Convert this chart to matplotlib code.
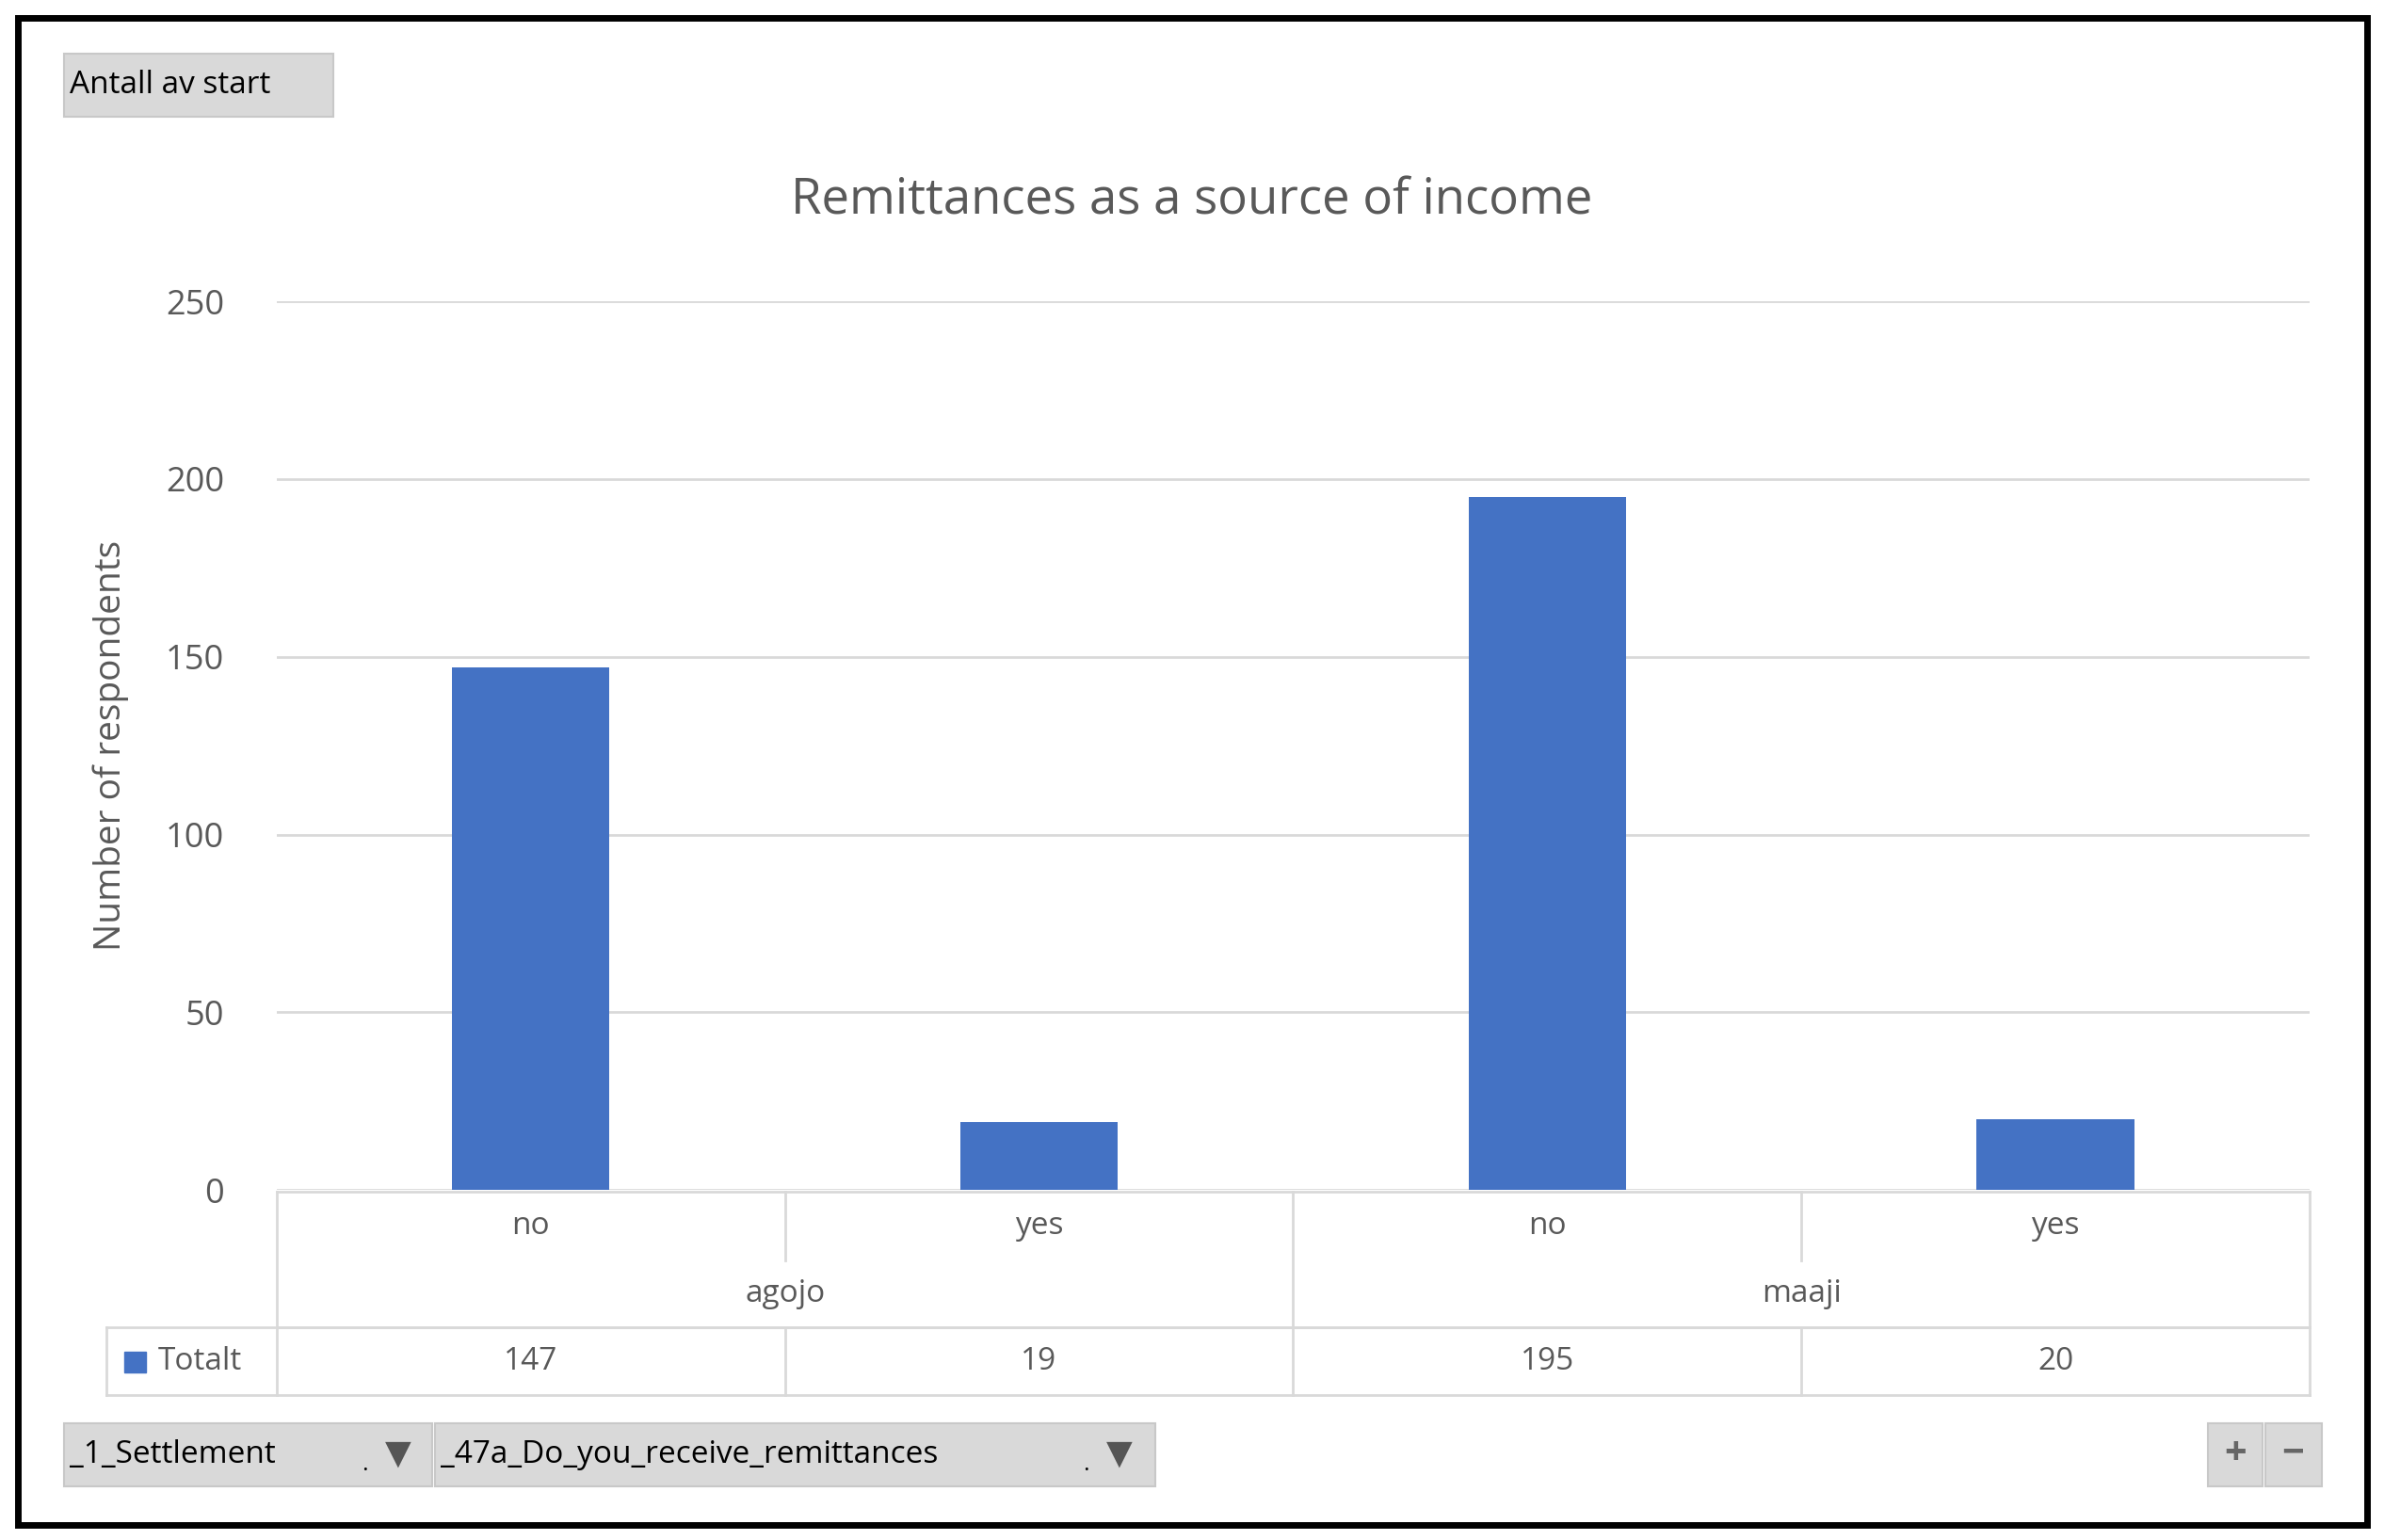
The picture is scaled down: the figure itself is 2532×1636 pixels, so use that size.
import matplotlib
matplotlib.use("Agg")
import matplotlib.pyplot as plt
from matplotlib.lines import Line2D
from matplotlib.patches import Rectangle

plt.rcParams['font.family'] = ['Open Sans', 'DejaVu Sans']

settlements = ["agojo", "maaji"]
answers = ["no", "yes", "no", "yes"]
values = [147, 19, 195, 20]
yticks = [0, 50, 100, 150, 200, 250]
title = "Remittances as a source of income"
ylabel = "Number of respondents"
series_name = "Totalt"

W, H = 1568, 1012
fx = lambda x: x / W
fy = lambda y: 1 - y / H

fig = plt.figure(figsize=(25.32, 16.36), dpi=100)
gray = "#595959"
grid = "#d9d9d9"
blue = "#4472c4"

ax = fig.add_axes([fx(182), fy(782), fx(1519) - fx(182), fy(198) - fy(782)])
xs = list(range(len(values)))
ax.bar(xs, values, width=0.31, color=blue, zorder=3)
ax.set_xlim(-0.5, len(values) - 0.5)
ax.set_ylim(0, 250)
ax.set_yticks(yticks)
ax.set_yticklabels([str(t) for t in yticks], fontsize=26, color=gray)
ax.tick_params(axis='y', length=0, pad=40)
ax.set_xticks([])
for s in ax.spines.values():
    s.set_visible(False)
ax.grid(axis='y', color=grid, linewidth=2, zorder=0)
ax.set_ylabel(ylabel, fontsize=28, color=gray, labelpad=28)

fig.text(0.5, fy(132), title, ha='center', va='center', fontsize=38, color=gray)

# table lines
def hline(x0, x1, y, c="#d9d9d9", lw=2):
    fig.add_artist(Line2D([fx(x0), fx(x1)], [fy(y), fy(y)], color=c, lw=lw))
def vline(x, y0, y1, c="#d9d9d9", lw=2):
    fig.add_artist(Line2D([fx(x), fx(x)], [fy(y0), fy(y1)], color=c, lw=lw))

hline(182, 1519, 783)
hline(182, 1519, 872)
hline(70, 1519, 872)
hline(70, 1519, 917)
for i in range(len(values) + 1):
    x = 182 + i * (1519 - 182) / len(values)
    if i in (0, 2, 4):
        vline(x, 783, 917)
    else:
        vline(x, 783, 828)
        vline(x, 872, 917)
vline(70, 872, 917)

colw = (1519 - 182) / len(values)
for i, (a, v) in enumerate(zip(answers, values)):
    cx = 182 + (i + 0.5) * colw
    fig.text(fx(cx), fy(806), a, ha='center', va='center', fontsize=24, color=gray)
    fig.text(fx(cx), fy(895), str(v), ha='center', va='center', fontsize=24, color=gray)
for j, s in enumerate(settlements):
    cx = 182 + (j + 0.5) * 2 * colw
    fig.text(fx(cx), fy(850), s, ha='center', va='center', fontsize=24, color=gray)
fig.add_artist(Rectangle((fx(82), fy(902)), fx(14), fy(888) - fy(902), color=blue))
fig.text(fx(104), fy(895), series_name, ha='left', va='center', fontsize=24, color=gray)

# buttons
def button(x0, y0, x1, y1, text, size=24):
    fig.add_artist(Rectangle((fx(x0), fy(y1)), fx(x1) - fx(x0), fy(y0) - fy(y1),
                             facecolor="#d9d9d9", edgecolor="#c8c8c8", lw=1.5))
    fig.text(fx(x0 + 4), fy((y0 + y1) / 2), text, ha='left', va='center', fontsize=size, color="black")

button(42, 35, 219, 77, "Antall av start")
button(42, 935, 284, 977, "_1_Settlement")
button(286, 935, 760, 977, "_47a_Do_you_receive_remittances")
for xf in (262, 736):
    fig.text(fx(xf), fy(956), "▼", ha='center', va='center', fontsize=26, color="#555555")
    fig.text(fx(xf - 22), fy(962), ".", ha='center', va='center', fontsize=18, color="black")
button(1452, 935, 1488, 977, "")
button(1490, 935, 1527, 977, "")
fig.text(fx(1470), fy(956), "+", ha='center', va='center', fontsize=30, color="#666666", weight='bold')
fig.text(fx(1508), fy(956), "−", ha='center', va='center', fontsize=30, color="#666666", weight='bold')

# outer border
fig.add_artist(Rectangle((fx(12), fy(1002)), fx(1557) - fx(12), fy(12) - fy(1002),
                         fill=False, edgecolor="black", lw=5))

fig.savefig("out.png", dpi=100)
